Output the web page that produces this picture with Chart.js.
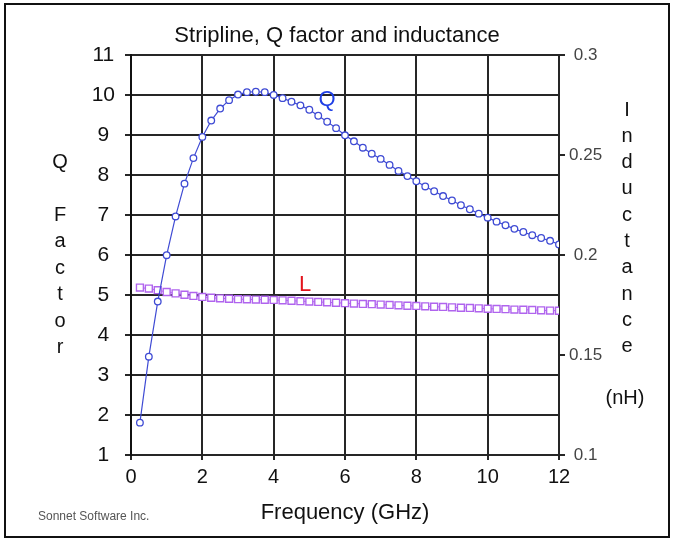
<!DOCTYPE html>
<html>
<head>
<meta charset="utf-8">
<title>Stripline, Q factor and inductance</title>
<script src="https://cdn.jsdelivr.net/npm/chart.js@4/dist/chart.umd.min.js"></script>
<style>
  html, body { margin: 0; padding: 0; background: #fff; }
  canvas { display: block; }
</style>
</head>
<body>
<canvas id="chart" width="674" height="545"></canvas>
<script>
// --- data ---
const freqGHz = [0.25, 0.5, 0.75, 1, 1.25, 1.5, 1.75, 2, 2.25, 2.5, 2.75, 3,
  3.25, 3.5, 3.75, 4, 4.25, 4.5, 4.75, 5, 5.25, 5.5, 5.75, 6,
  6.25, 6.5, 6.75, 7, 7.25, 7.5, 7.75, 8, 8.25, 8.5, 8.75, 9,
  9.25, 9.5, 9.75, 10, 10.25, 10.5, 10.75, 11, 11.25, 11.5, 11.75, 12];

const qFactor = [1.81, 3.46, 4.84, 6.0, 6.97, 7.79, 8.43, 8.96, 9.37, 9.67, 9.88, 10.02,
  10.08, 10.09, 10.08, 10.01, 9.93, 9.84, 9.75, 9.64, 9.49, 9.34, 9.18, 9.0,
  8.85, 8.69, 8.54, 8.41, 8.26, 8.11, 7.98, 7.85, 7.72, 7.6, 7.48, 7.37,
  7.25, 7.15, 7.04, 6.94, 6.84, 6.75, 6.66, 6.58, 6.5, 6.43, 6.36, 6.27];

const inductanceNH = [0.1838, 0.1833, 0.1825, 0.1816, 0.1809, 0.1802, 0.1796, 0.1791, 0.1787, 0.1784, 0.1782, 0.1780,
  0.1779, 0.1778, 0.1777, 0.1776, 0.1774, 0.1772, 0.1770, 0.1768, 0.1766, 0.1764, 0.1762, 0.1760,
  0.1758, 0.1756, 0.1755, 0.1753, 0.1751, 0.1749, 0.1747, 0.1746, 0.1744, 0.1742, 0.1741, 0.1739,
  0.1737, 0.1736, 0.1734, 0.1732, 0.1731, 0.1730, 0.1728, 0.1727, 0.1726, 0.1724, 0.1723, 0.1722];

const freqTicks = [0, 2, 4, 6, 8, 10, 12];
const qTicks = [1, 2, 3, 4, 5, 6, 7, 8, 9, 10, 11];
const lTicks = [0.1, 0.15, 0.2, 0.25, 0.3];

const FONT = '"Liberation Sans", Arial, Helvetica, sans-serif';
const GRID = '#262626';
const Q_COLOR = '#3f4bd4';
const L_COLOR = '#b064ee';

const toPoints = vals => freqGHz.map((f, i) => ({ x: f, y: vals[i] }));
const fixedTicks = arr => scale => { scale.ticks = arr.map(v => ({ value: v })); };

// --- extra texts: frame, stacked axis titles, series labels, credit ---
const extras = {
  id: 'extras',
  beforeDraw(chart) {
    const ctx = chart.ctx;
    ctx.save();
    ctx.fillStyle = '#fff';
    ctx.fillRect(0, 0, chart.width, chart.height);
    ctx.strokeStyle = '#111';
    ctx.lineWidth = 2;
    ctx.strokeRect(5, 4, 664, 533);
    ctx.restore();
  },
  afterDraw(chart) {
    const ctx = chart.ctx;
    const { x, y, y1 } = chart.scales;
    ctx.save();
    ctx.textAlign = 'center';
    ctx.textBaseline = 'middle';

    // left title, one letter per line
    ctx.fillStyle = '#111';
    ctx.font = '20px ' + FONT;
    ['Q', '', 'F', 'a', 'c', 't', 'o', 'r'].forEach((ch, i) => {
      ctx.fillText(ch, 60, 162 + i * 26.5);
    });

    // right title
    'Inductance'.split('').forEach((ch, i) => {
      ctx.fillText(ch, 627, 110 + i * 26.3);
    });
    ctx.fillText('(nH)', 625, 398);

    // series labels
    ctx.font = '22px ' + FONT;
    ctx.fillStyle = '#1f3fe6';
    ctx.fillText('Q', x.getPixelForValue(5.5), y.getPixelForValue(9.88));
    ctx.fillStyle = '#e3141c';
    ctx.fillText('L', x.getPixelForValue(4.88), y1.getPixelForValue(0.185));

    // credit
    ctx.font = '12px ' + FONT;
    ctx.fillStyle = '#555';
    ctx.textAlign = 'left';
    ctx.fillText('Sonnet Software Inc.', 38, 517);
    ctx.restore();
  }
};

new Chart(document.getElementById('chart'), {
  type: 'line',
  data: {
    datasets: [{
      label: 'Q',
      data: toPoints(qFactor),
      yAxisID: 'y',
      borderColor: Q_COLOR,
      borderWidth: 1.2,
      pointStyle: 'circle',
      pointRadius: 3.3,
      pointBorderWidth: 1.3,
      pointBorderColor: Q_COLOR,
      pointBackgroundColor: '#fff',
      tension: 0
    }, {
      label: 'L',
      data: toPoints(inductanceNH),
      yAxisID: 'y1',
      borderColor: L_COLOR,
      borderWidth: 1,
      pointStyle: 'rect',
      pointRadius: 4.9,
      pointBorderWidth: 1.4,
      pointBorderColor: L_COLOR,
      pointBackgroundColor: '#fff',
      tension: 0
    }]
  },
  options: {
    responsive: false,
    animation: false,
    layout: { padding: 0 },
    plugins: {
      legend: { display: false },
      tooltip: { enabled: false },
      title: {
        display: true,
        text: 'Stripline, Q factor and inductance',
        color: '#111',
        font: { family: FONT, size: 22, weight: 'normal' },
        padding: { top: 23, bottom: 6 }
      }
    },
    scales: {
      x: {
        type: 'linear',
        min: 0, max: 12,
        afterBuildTicks: fixedTicks(freqTicks),
        afterFit: s => { s.height = 90; },
        grid: { color: GRID, lineWidth: 2, tickLength: 5 },
        border: { color: GRID, width: 2 },
        ticks: { color: '#111', font: { family: FONT, size: 20 }, padding: 5 },
        title: {
          display: true,
          text: 'Frequency (GHz)',
          color: '#111',
          font: { family: FONT, size: 22 },
          padding: { top: 0, bottom: 19 }
        }
      },
      y: {
        position: 'left',
        min: 1, max: 11,
        afterBuildTicks: fixedTicks(qTicks),
        afterFit: s => { s.width = 131; },
        grid: { color: GRID, lineWidth: 2, tickLength: 6 },
        border: { color: '#111', width: 2 },
        ticks: { color: '#111', font: { family: FONT, size: 21 }, padding: 10, crossAlign: 'center' }
      },
      y1: {
        position: 'right',
        min: 0.1, max: 0.3,
        afterBuildTicks: fixedTicks(lTicks),
        afterFit: s => { s.width = 115; },
        grid: { drawOnChartArea: false, color: GRID, lineWidth: 2, tickLength: 6 },
        border: { color: GRID, width: 2 },
        ticks: {
          color: '#444',
          font: { family: FONT, size: 17 },
          padding: 4,
          crossAlign: 'center',
          callback: v => String(+v.toFixed(2))
        }
      }
    }
  },
  plugins: [extras]
});
</script>
</body>
</html>
